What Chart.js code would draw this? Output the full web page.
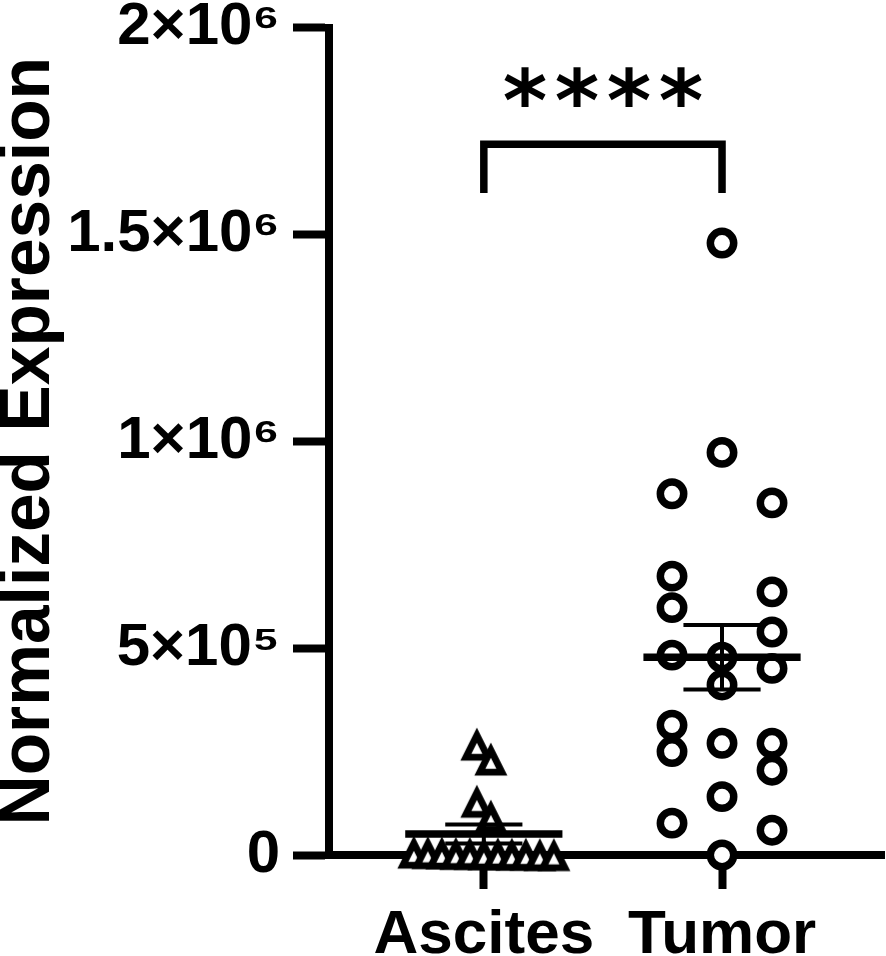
<!DOCTYPE html>
<html>
<head>
<meta charset="utf-8">
<title>Normalized Expression</title>
<script src="https://cdn.jsdelivr.net/npm/chart.js@4.4.1/dist/chart.umd.min.js"></script>
<style>
  html, body { margin: 0; padding: 0; background: #fff; }
  #wrap { width: 886px; height: 956px; }
</style>
</head>
<body>
<div id="wrap"><canvas id="exprChart" width="886" height="956"></canvas></div>
<script>
// values
const categories = ['Ascites', 'Tumor'];
const ascites = [268000, 232000, 130000, 94000, 4000, 2000, 6000, 1000, 3000, 5000, 2000, 7000, 3000, 1000, 4000];
const tumor = [1479000, 973000, 873000, 851000, 674000, 636000, 598000, 539000, 483000, 478000, 451000,
  411000, 314000, 270000, 270000, 250000, 205000, 141000, 77000, 60000, 0];
const yTicks = [0, 500000, 1000000, 1500000, 2000000];
const yTickLabels = ['0', '5×10⁵', '1×10⁶', '1.5×10⁶', '2×10⁶'];
const significance = '****';
const bracketLow = 1600000;
const bracketHigh = 1718000;
const sigY = 1855000;

// plot geometry
const X_MIN = 0.35, X_MAX = 2.68, Y_MAX = 2000000;
const PLOT_LEFT = 329, PLOT_RIGHT = 884, PLOT_TOP = 27.5, PLOT_BOTTOM = 855;
const pxPerX = (PLOT_RIGHT - PLOT_LEFT) / (X_MAX - X_MIN);
const pxPerY = (PLOT_BOTTOM - PLOT_TOP) / Y_MAX;
const FONT = '"Liberation Sans", Arial, sans-serif';

// simple row-based scatter layout (like a column scatter plot)
function swarm(values, center, spacing, minSpread, rowHeight) {
  const sorted = [...values].sort((a, b) => b - a);
  const rows = [];
  sorted.forEach(v => {
    const row = rows[rows.length - 1];
    if (row && (row[0] - v) * pxPerY < rowHeight) row.push(v);
    else rows.push([v]);
  });
  const pts = [];
  rows.forEach(row => {
    const k = row.length;
    const spread = k > 1 ? Math.max((k - 1) * spacing, minSpread) : 0;
    row.forEach((v, j) => {
      const off = k > 1 ? (j / (k - 1) - 0.5) * spread : 0;
      pts.push({ x: center + off / pxPerX, y: v });
    });
  });
  return pts;
}

function meanSem(values) {
  const n = values.length;
  const mean = values.reduce((s, v) => s + v, 0) / n;
  const sd = Math.sqrt(values.reduce((s, v) => s + (v - mean) ** 2, 0) / (n - 1));
  return { mean, sem: sd / Math.sqrt(n) };
}

function line(points, width) {
  return {
    type: 'scatter', data: points, showLine: true, borderColor: '#000', borderWidth: width,
    pointRadius: 0, borderCapStyle: 'butt', borderJoinStyle: 'miter', clip: false, order: 0
  };
}

function errorBars(values, c) {
  const { mean, sem } = meanSem(values);
  return [
    line([{ x: c - 0.33, y: mean }, { x: c + 0.33, y: mean }], 7.5),
    line([{ x: c, y: mean - sem }, { x: c, y: mean + sem }], 4),
    line([{ x: c - 0.162, y: mean + sem }, { x: c + 0.162, y: mean + sem }], 4),
    line([{ x: c - 0.162, y: mean - sem }, { x: c + 0.162, y: mean - sem }], 4)
  ];
}

// open triangle marker
const tri = document.createElement('canvas');
tri.width = 40; tri.height = 40;
(function () {
  const g = tri.getContext('2d');
  g.fillStyle = '#000';
  g.beginPath(); g.moveTo(20, 3.5); g.lineTo(36.5, 36.5); g.lineTo(3.5, 36.5); g.closePath(); g.fill();
  g.fillStyle = '#fff';
  g.beginPath(); g.moveTo(20, 18.7); g.lineTo(25.5, 29.7); g.lineTo(14.5, 29.7); g.closePath(); g.fill();
})();

const datasets = [
  {
    data: swarm(ascites, 1, 14, 14, 26), pointStyle: tri, pointRadius: 16,
    clip: false, order: 1
  },
  {
    data: swarm(tumor, 2, 50, 100, 26), pointStyle: 'circle', pointRadius: 11.7, pointBorderWidth: 7.5,
    pointBackgroundColor: '#fff', pointBorderColor: '#000', clip: false, order: 1
  },
  ...errorBars(ascites, 1),
  ...errorBars(tumor, 2),
  line([{ x: 1, y: bracketLow }, { x: 1, y: bracketHigh }, { x: 2, y: bracketHigh }, { x: 2, y: bracketLow }], 7.5)
];

// the **** above the bracket, each star scaled to ~40px tall
const sigPlugin = {
  id: 'sigStars',
  afterDatasetsDraw(chart) {
    const { ctx, scales: { x, y } } = chart;
    const cx = x.getPixelForValue(1.5), cy = y.getPixelForValue(sigY);
    ctx.save();
    ctx.fillStyle = '#000';
    ctx.textAlign = 'center';
    ctx.textBaseline = 'alphabetic';
    ctx.font = 'bold 100px "DejaVu Sans"';
    let m = ctx.measureText('*');
    const size = 100 * 40 / (m.actualBoundingBoxAscent + m.actualBoundingBoxDescent);
    ctx.font = 'bold ' + size.toFixed(1) + 'px "DejaVu Sans"';
    m = ctx.measureText('*');
    const off = (m.actualBoundingBoxAscent - m.actualBoundingBoxDescent) / 2;
    const stars = significance.split('');
    stars.forEach((s, i) => {
      ctx.fillText(s, cx + (i - (stars.length - 1) / 2) * 52, cy + off);
    });
    ctx.restore();
  }
};

new Chart(document.getElementById('exprChart'), {
  type: 'scatter',
  data: { datasets },
  options: {
    responsive: false,
    animation: false,
    devicePixelRatio: 1,
    layout: { autoPadding: false, padding: { top: PLOT_TOP, right: 886 - PLOT_RIGHT, left: 0, bottom: 0 } },
    plugins: { legend: { display: false }, tooltip: { enabled: false } },
    scales: {
      x: {
        type: 'linear', min: X_MIN, max: X_MAX, z: 1,
        afterBuildTicks: s => { s.ticks = categories.map((c, i) => ({ value: i + 1 })); },
        afterFit: s => { s.height = 956 - PLOT_BOTTOM; s.paddingLeft = 0; s.paddingRight = 0; },
        border: { color: '#000', width: 8 },
        grid: { drawOnChartArea: false, drawTicks: true, tickLength: 34, tickWidth: 8, tickColor: '#000' },
        ticks: {
          color: '#000', font: { family: FONT, size: 62, weight: 'bold' }, padding: 10,
          maxRotation: 0, autoSkip: false, callback: v => categories[v - 1]
        }
      },
      y: {
        min: 0, max: Y_MAX, z: 1,
        afterBuildTicks: s => { s.ticks = yTicks.map(v => ({ value: v })); },
        afterFit: s => { s.width = PLOT_LEFT; s.paddingTop = 0; s.paddingBottom = 0; },
        border: { color: '#000', width: 8 },
        grid: { drawOnChartArea: false, drawTicks: true, tickLength: 36, tickWidth: 8, tickColor: '#000' },
        ticks: {
          color: '#000', font: { family: FONT, size: 60, weight: 'bold' }, padding: 13,
          autoSkip: false, callback: v => yTickLabels[yTicks.indexOf(v)]
        },
        title: {
          display: true, text: 'Normalized Expression', color: '#000', padding: { top: 2, bottom: 0 },
          font: { family: FONT, size: 69.5, weight: 'bold', lineHeight: 0.8 }
        }
      }
    }
  },
  plugins: [sigPlugin]
});
</script>
</body>
</html>
